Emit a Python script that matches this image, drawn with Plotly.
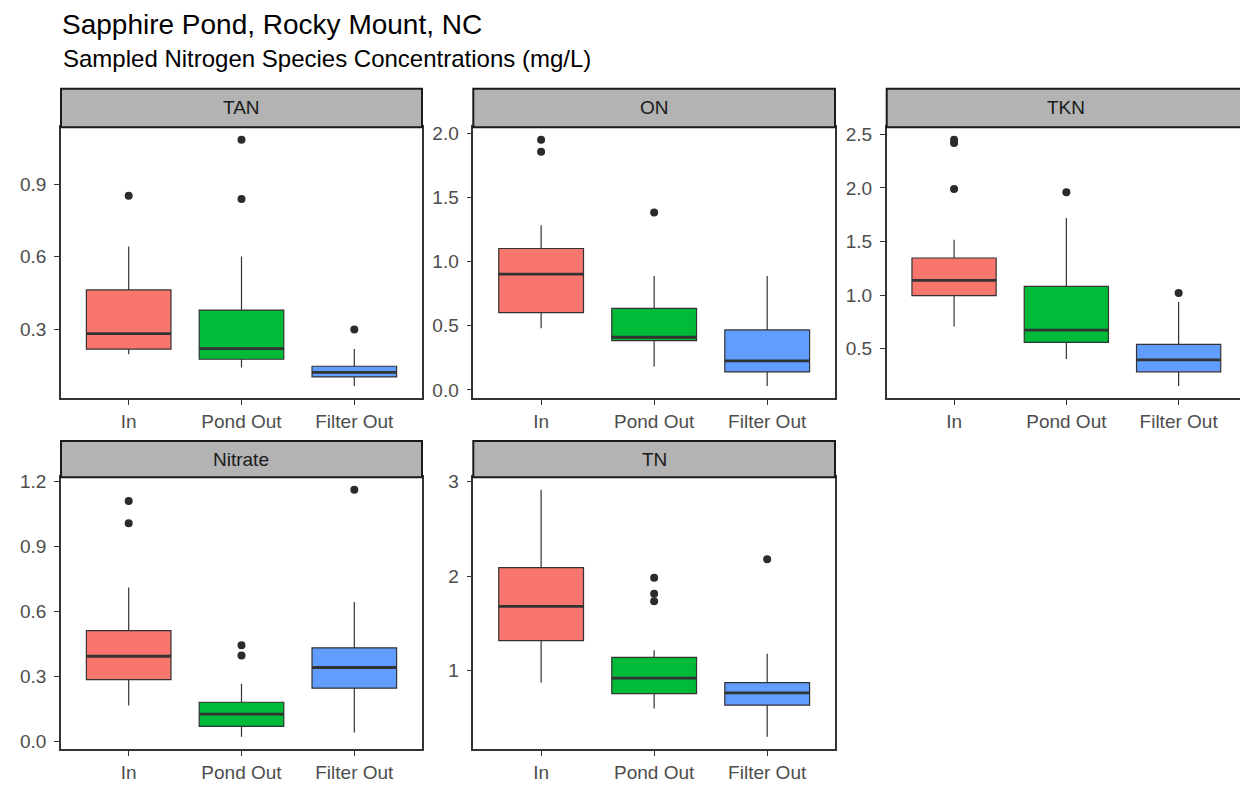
import plotly.graph_objects as go
from plotly.subplots import make_subplots

categories = ["In", "Pond Out", "Filter Out"]
panels = ["TAN", "ON", "TKN", "Nitrate", "TN"]
colors = ["#F8766D", "#00BA38", "#619CFF"]

TAN_lower = [0.198, 0.143, 0.067]
TAN_q1 = [0.219, 0.177, 0.104]
TAN_median = [0.283, 0.221, 0.123]
TAN_q3 = [0.463, 0.380, 0.148]
TAN_upper = [0.642, 0.601, 0.219]
TAN_outliers = [[0.852], [1.083, 0.838], [0.300]]

ON_lower = [0.481, 0.182, 0.031]
ON_q1 = [0.603, 0.385, 0.140]
ON_median = [0.904, 0.411, 0.226]
ON_q3 = [1.104, 0.637, 0.468]
ON_upper = [1.286, 0.889, 0.889]
ON_outliers = [[1.954, 1.860], [1.385], []]

TKN_lower = [0.707, 0.402, 0.152]
TKN_q1 = [0.994, 0.558, 0.283]
TKN_median = [1.137, 0.673, 0.395]
TKN_q3 = [1.346, 1.081, 0.539]
TKN_upper = [1.517, 1.720, 0.935]
TKN_outliers = [[2.451, 2.421, 1.991], [1.960], [1.019]]

Nitrate_lower = [0.167, 0.023, 0.043]
Nitrate_q1 = [0.286, 0.071, 0.247]
Nitrate_median = [0.394, 0.127, 0.342]
Nitrate_q3 = [0.512, 0.182, 0.433]
Nitrate_upper = [0.711, 0.267, 0.644]
Nitrate_outliers = [[1.109, 1.007], [0.445, 0.397], [1.162]]

TN_lower = [0.872, 0.596, 0.298]
TN_q1 = [1.316, 0.755, 0.632]
TN_median = [1.678, 0.919, 0.763]
TN_q3 = [2.089, 1.138, 0.872]
TN_upper = [2.915, 1.213, 1.178]
TN_outliers = [[], [1.983, 1.813, 1.734], [2.178]]

TAN_ticks = [0.3, 0.6, 0.9]
ON_ticks = [0.0, 0.5, 1.0, 1.5, 2.0]
TKN_ticks = [0.5, 1.0, 1.5, 2.0, 2.5]
Nitrate_ticks = [0.0, 0.3, 0.6, 0.9, 1.2]
TN_ticks = [1, 2, 3]

stats = {
    "TAN": (TAN_lower, TAN_q1, TAN_median, TAN_q3, TAN_upper, TAN_outliers, TAN_ticks, ".1f"),
    "ON": (ON_lower, ON_q1, ON_median, ON_q3, ON_upper, ON_outliers, ON_ticks, ".1f"),
    "TKN": (TKN_lower, TKN_q1, TKN_median, TKN_q3, TKN_upper, TKN_outliers, TKN_ticks, ".1f"),
    "Nitrate": (Nitrate_lower, Nitrate_q1, Nitrate_median, Nitrate_q3, Nitrate_upper, Nitrate_outliers, Nitrate_ticks, ".1f"),
    "TN": (TN_lower, TN_q1, TN_median, TN_q3, TN_upper, TN_outliers, TN_ticks, "d"),
}

# page body has an 8px margin: figure coordinates are reference pixels minus 8
OFF = 8
W, H = 1248 - OFF, 785 - OFF
col_px = [(61, 422), (473.3, 835), (886.7, 1246)]
row_px = [(122.7, 396.7), (476.7, 751.7)]
strip_px = [(83.5, 122.7), (440, 476.7)]
positions = [(1, 1), (1, 2), (1, 3), (2, 1), (2, 2)]

fig = make_subplots(rows=2, cols=3)
FONT = "Liberation Sans, Arial, sans-serif"
BW = 0.75
DARK = "#333333"

for name, (r, c) in zip(panels, positions):
    lo, q1, med, q3, up, outs, ticks, fmt = stats[name]
    for i, cat in enumerate(categories):
        fig.add_trace(go.Box(
            x=[i], q1=[q1[i]], median=[med[i]], q3=[q3[i]],
            lowerfence=[lo[i]], upperfence=[up[i]],
            width=BW, whiskerwidth=0, fillcolor=colors[i],
            line=dict(color=DARK, width=1.2), boxpoints=False,
            showlegend=False, hoverinfo="skip"), row=r, col=c)
        fig.add_trace(go.Scatter(
            x=[i - BW / 2, i + BW / 2], y=[med[i], med[i]], mode="lines",
            line=dict(color=DARK, width=2.8), showlegend=False, hoverinfo="skip"),
            row=r, col=c)
        if outs[i]:
            fig.add_trace(go.Scatter(
                x=[i] * len(outs[i]), y=outs[i], mode="markers",
                marker=dict(color="#2B2B2B", size=8), showlegend=False),
                row=r, col=c)
    allv = lo + up + [v for o in outs for v in o]
    vmin, vmax = min(allv), max(allv)
    pad = (vmax - vmin) * 0.05
    x0, x1 = [p - OFF for p in col_px[c - 1]]
    y0, y1 = [p - OFF for p in row_px[r - 1]]
    fig.update_xaxes(domain=[x0 / W, x1 / W], range=[-0.6, 2.6],
                     tickvals=[0, 1, 2], ticktext=categories, row=r, col=c)
    fig.update_yaxes(domain=[1 - y1 / H, 1 - y0 / H], range=[vmin - pad, vmax + pad],
                     tickvals=ticks, tickformat=fmt, row=r, col=c)
    s0, s1 = [p - OFF for p in strip_px[r - 1]]
    fig.add_shape(type="rect", xref="paper", yref="paper",
                  x0=x0 / W, x1=x1 / W, y0=1 - s1 / H, y1=1 - s0 / H,
                  fillcolor="#B3B3B3", line=dict(color="#1A1A1A", width=2))
    fig.add_annotation(text=name, xref="paper", yref="paper",
                       x=(x0 + x1) / 2 / W, y=1 - (s0 + s1) / 2 / H,
                       showarrow=False, xanchor="center", yanchor="middle",
                       font=dict(size=19, color="#1A1A1A", family=FONT))

axis_style = dict(showgrid=False, zeroline=False, showline=True, mirror=True,
                  linecolor=DARK, linewidth=1.5, ticks="outside", ticklen=5,
                  tickcolor=DARK, tickwidth=1.2,
                  tickfont=dict(size=19, color="#4D4D4D", family=FONT))
fig.update_xaxes(**axis_style)
fig.update_yaxes(**axis_style, ticklabelstandoff=4)

fig.add_annotation(text="Sapphire Pond, Rocky Mount, NC", xref="paper", yref="paper",
                   x=(61 - OFF) / W, y=1 - 11 / H, xanchor="left", yanchor="middle",
                   borderpad=0, showarrow=False,
                   font=dict(size=28, color="#000000", family=FONT))
fig.add_annotation(text="Sampled Nitrogen Species Concentrations (mg/L)", xref="paper",
                   yref="paper", x=(61 - OFF) / W, y=1 - 45 / H, xanchor="left",
                   yanchor="middle", showarrow=False,
                   font=dict(size=24, color="#000000", family=FONT))

fig.update_layout(width=W, height=H, margin=dict(l=0, r=0, t=0, b=0),
                  plot_bgcolor="white", paper_bgcolor="white", boxmode="overlay",
                  font=dict(family=FONT))

fig.write_html("out.html")
